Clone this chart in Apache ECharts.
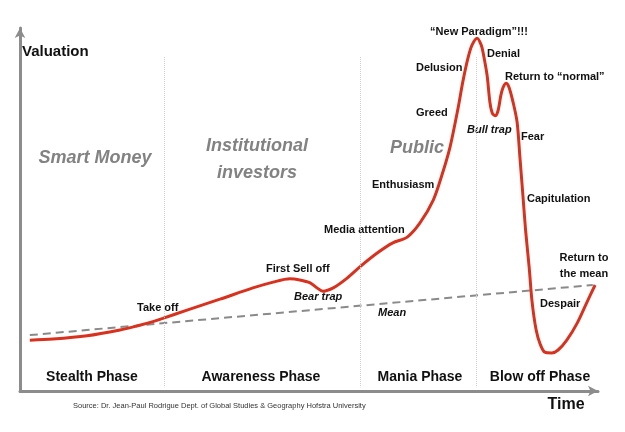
<!DOCTYPE html>
<html>
<head>
<meta charset="utf-8">
<script src="https://cdn.jsdelivr.net/npm/echarts@6/dist/echarts.min.js"></script>
<style>
  html, body { margin: 0; padding: 0; background: #fff; }
  #chart { width: 625px; height: 432px; }
</style>
</head>
<body>
<div id="chart"></div>
<script>
/*********** data (x: time 0-100, y: valuation 0-100) ***********/
var timeX = [1.7, 5.7, 11.6, 17.3, 20.2, 23.0, 24.7, 28.9, 34.6, 40.3, 43.8, 46.7, 48.4, 50.2,
    51.4, 52.4, 54.2, 56.6, 58.8, 61.8, 64.5, 67.0, 69.2, 71.5, 73.0, 74.4, 75.8, 76.6, 77.5,
    78.2, 79.1, 79.8, 80.1, 80.8, 81.3, 81.7, 82.2, 82.7, 83.2, 83.6, 84.1, 84.6, 85.3, 86.0,
    86.5, 87.0, 87.5, 88.1, 88.6, 89.3, 90.0, 90.8, 92.0, 93.1, 94.6, 96.4, 98.1, 99.5];
var valuation = [14.0, 14.3, 15.2, 16.8, 17.9, 19.1, 20.0, 22.3, 25.3, 28.4, 30.0, 30.9, 30.6, 29.8,
    28.4, 27.5, 28.4, 31.1, 34.2, 38.0, 40.8, 42.4, 46.3, 52.6, 59.5, 67.2, 78.0, 85.1, 91.7,
    95.3, 97.2, 95.3, 93.4, 87.1, 79.5, 76.6, 75.8, 77.2, 81.5, 83.7, 84.8, 83.7, 79.6, 74.1,
    64.2, 54.0, 43.8, 33.9, 24.5, 16.8, 12.9, 10.7, 10.5, 11.3, 14.0, 18.7, 24.5, 29.2];
var meanX = [1.7, 99.1];
var meanY = [15.4, 29.2];
var phaseBounds = [24.9, 58.8, 78.9];
var phaseNames = ['Stealth Phase', 'Awareness Phase', 'Mania Phase', 'Blow off Phase'];
var crowdNames = ['Smart Money', 'Institutional\ninvestors', 'Public'];
var stageNames = ['\u201cNew Paradigm\u201d!!!', 'Denial', 'Return to \u201cnormal\u201d', 'Delusion',
    'Greed', 'Bull trap', 'Fear', 'Enthusiasm', 'Capitulation', 'Media attention',
    'First Sell off', 'Bear trap', 'Take off', 'Mean', 'Return to\nthe mean', 'Despair'];
var sourceText = 'Source: Dr. Jean-Paul Rodrigue Dept. of Global Studies & Geography Hofstra University';

/*********** layout (pixels) ***********/
var FONT = '"Liberation Sans", Arial, sans-serif';
var phasePos = [[92, 377], [261, 377], [420, 377], [540, 377]];
var crowdPos = [[95, 158], [257, 160], [417, 148]];
var stagePos = [[479, 32, 'center'], [487, 54], [505, 77], [416, 68], [416, 113], [467, 130],
    [521, 137], [372, 185], [527, 199], [324, 230], [266, 269], [294, 297], [137, 308],
    [378, 313], [584, 266, 'center'], [540, 304]];
var italicStages = ['Bull trap', 'Bear trap', 'Mean'];

var curve = timeX.map(function(x, i) { return [x, valuation[i]]; });
var mean = meanX.map(function(x, i) { return [x, meanY[i]]; });

var graphics = [];
function addText(txt, x, y, font, opts) {
    opts = opts || {};
    graphics.push({
        type: 'text',
        silent: true,
        style: {
            text: txt, x: x, y: y, font: font,
            fill: opts.fill || '#111',
            align: opts.align || 'left',
            verticalAlign: 'middle',
            lineHeight: opts.lineHeight,
            shadowColor: opts.shadow ? 'rgba(0,0,0,0.35)' : undefined,
            shadowBlur: opts.shadow ? 2 : 0,
            shadowOffsetX: opts.shadow ? 1 : 0,
            shadowOffsetY: opts.shadow ? 2 : 0
        }
    });
}

phaseNames.forEach(function(t, i) {
    addText(t, phasePos[i][0], phasePos[i][1], 'bold 14px ' + FONT, { align: 'center' });
});
crowdNames.forEach(function(t, i) {
    addText(t, crowdPos[i][0], crowdPos[i][1], 'italic bold 18px ' + FONT,
        { align: 'center', fill: '#828282', shadow: true, lineHeight: 27 });
});
stageNames.forEach(function(t, i) {
    var it = italicStages.indexOf(t) >= 0 ? 'italic ' : '';
    addText(t, stagePos[i][0], stagePos[i][1], it + 'bold 11px ' + FONT,
        { align: stagePos[i][2] || 'left', lineHeight: 16 });
});
addText('Valuation', 22, 52, 'bold 15px ' + FONT);
addText('Time', 566, 405, 'bold 16px ' + FONT, { align: 'center' });
addText(sourceText, 73, 406, '7.5px ' + FONT, { fill: '#333' });

var axisLine = {
    show: true,
    symbol: ['none', 'arrow'],
    symbolSize: [8, 10],
    lineStyle: { color: '#8c8c8c', width: 3 }
};

var myChart = echarts.init(document.getElementById('chart'));
var option = {
    animation: false,
    backgroundColor: '#fff',
    grid: { left: 20, right: 27, top: 28, bottom: 41 },
    xAxis: {
        type: 'value', min: 0, max: 100,
        axisLine: axisLine, axisTick: { show: false },
        axisLabel: { show: false }, splitLine: { show: false }
    },
    yAxis: {
        type: 'value', min: 0, max: 100,
        axisLine: axisLine, axisTick: { show: false },
        axisLabel: { show: false }, splitLine: { show: false }
    },
    series: [{
        name: 'Mean',
        type: 'line',
        data: mean,
        symbol: 'none',
        lineStyle: { color: '#8a8a8a', width: 2, type: [8, 5] },
        z: 2,
        markLine: {
            silent: true,
            symbol: 'none',
            label: { show: false },
            lineStyle: { color: '#cfcfcf', width: 1, type: 'dotted' },
            data: phaseBounds.map(function(x) {
                return [{ coord: [x, 92] }, { coord: [x, 1] }];
            })
        }
    }, {
        name: 'Valuation',
        type: 'line',
        data: curve,
        symbol: 'none',
        smooth: 0.3,
        lineStyle: { color: '#d8321f', width: 3 },
        z: 3
    }],
    graphic: graphics
};
myChart.setOption(option);
</script>
</body>
</html>
